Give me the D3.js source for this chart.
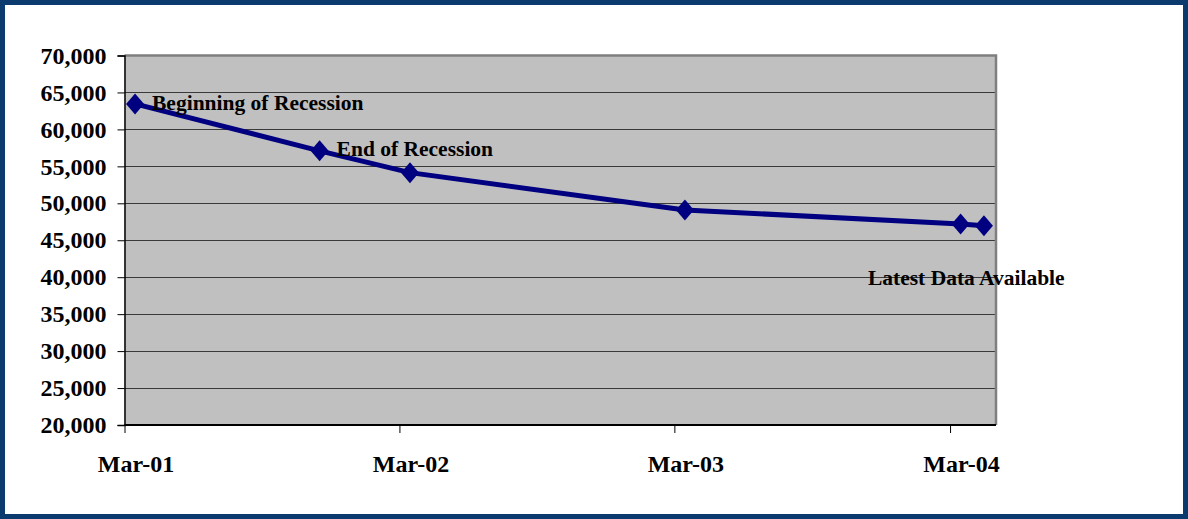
<!DOCTYPE html>
<html>
<head>
<meta charset="utf-8">
<script src="https://cdn.jsdelivr.net/npm/d3@7"></script>
<style>
  html, body { margin: 0; padding: 0; background: #fff; }
  svg { display: block; }
  text { font-family: "Liberation Serif", "DejaVu Serif", serif; fill: #000; }
</style>
</head>
<body>
<svg id="chart" width="1188" height="519"></svg>
<script>
// Observation dates (mid-month) and values
const dates = ["2001-03-15", "2001-11-15", "2002-03-15", "2003-03-15", "2004-03-15", "2004-04-15"];
const values = [63450, 57100, 54150, 49100, 47200, 46950];

// Annotations: which point each note belongs to, and its offset from that point
const notes = [
  { index: 0, text: "Beginning of Recession", dx: 17, dy: 6 },
  { index: 1, text: "End of Recession", dx: 17, dy: 5 },
  { index: 5, text: "Latest Data Available", dx: -116, dy: 59 }
];

const xTickDates = ["2001-03-01", "2002-03-01", "2003-03-01", "2004-03-01"];
const xDomain = ["2001-03-01", "2004-05-01"];
const yTicks = [20000, 25000, 30000, 35000, 40000, 45000, 50000, 55000, 60000, 65000, 70000];

const parse = d3.utcParse("%Y-%m-%d");
const fmtMonth = d3.utcFormat("%b-%y");
const fmtNum = d3.format(",");

const svg = d3.select("#chart");
const W = 1188, H = 519;

// outer frame
svg.append("rect")
  .attr("x", 2.5).attr("y", 2.5)
  .attr("width", W - 5).attr("height", H - 5)
  .attr("fill", "#fff")
  .attr("stroke", "#0b3a6e")
  .attr("stroke-width", 5);

const plot = { left: 124.5, right: 996, top: 55.5, bottom: 425 };

const x = d3.scaleUtc()
  .domain(xDomain.map(parse))
  .range([plot.left, plot.right]);

const y = d3.scaleLinear()
  .domain([20000, 70000])
  .range([plot.bottom, plot.top]);

// plot background
svg.append("rect")
  .attr("x", plot.left).attr("y", plot.top)
  .attr("width", plot.right - plot.left)
  .attr("height", plot.bottom - plot.top)
  .attr("fill", "#c0c0c0");

// horizontal gridlines
svg.append("g")
  .selectAll("line")
  .data(yTicks.filter(v => v > 20000 && v < 70000))
  .join("line")
  .attr("x1", plot.left).attr("x2", plot.right)
  .attr("y1", d => Math.round(y(d)) + 0.5)
  .attr("y2", d => Math.round(y(d)) + 0.5)
  .attr("stroke", "#3a3a3a")
  .attr("stroke-width", 1);

// top and right plot border
svg.append("path")
  .attr("d", `M${plot.left},${plot.top} H${plot.right} V${plot.bottom}`)
  .attr("fill", "none")
  .attr("stroke", "#7f7f7f")
  .attr("stroke-width", 2.5);

// y axis
const yAxis = svg.append("g")
  .attr("transform", `translate(${plot.left},0)`)
  .call(d3.axisLeft(y).tickValues(yTicks).tickSize(7).tickPadding(11).tickFormat(fmtNum));
yAxis.select(".domain").attr("stroke", "#000").attr("stroke-width", 1.5);
yAxis.selectAll(".tick line").attr("stroke", "#000");
yAxis.selectAll(".tick text")
  .attr("font-family", "'Liberation Serif', serif")
  .attr("font-weight", "bold")
  .attr("font-size", 24)
  .attr("fill", "#000");

// x axis; month labels sit under the middle of the month
const xAxis = svg.append("g")
  .attr("transform", `translate(0,${plot.bottom})`)
  .call(d3.axisBottom(x).tickValues(xTickDates.map(parse)).tickSize(8).tickPadding(22).tickFormat(fmtMonth));
xAxis.select(".domain").attr("stroke", "#000").attr("stroke-width", 2).attr("d", `M${plot.left},0H${plot.right}`);
xAxis.selectAll(".tick line").attr("stroke", "#000");
xAxis.selectAll(".tick text")
  .attr("dx", 11)
  .attr("font-family", "'Liberation Serif', serif")
  .attr("font-weight", "bold")
  .attr("font-size", 24)
  .attr("fill", "#000");

// data series
const pts = dates.map((d, i) => ({ date: parse(d), value: values[i] }));

svg.append("path")
  .datum(pts)
  .attr("d", d3.line().x(d => x(d.date)).y(d => y(d.value)))
  .attr("fill", "none")
  .attr("stroke", "#000080")
  .attr("stroke-width", 5)
  .attr("stroke-linejoin", "round");

// diamond markers
svg.append("g")
  .selectAll("path")
  .data(pts)
  .join("path")
  .attr("transform", d => `translate(${x(d.date)},${y(d.value)})`)
  .attr("d", "M0,-10.5L9,0L0,10.5L-9,0Z")
  .attr("fill", "#000080");

// annotations
svg.append("g")
  .selectAll("text")
  .data(notes)
  .join("text")
  .attr("x", d => x(pts[d.index].date) + d.dx)
  .attr("y", d => y(pts[d.index].value) + d.dy)
  .attr("font-size", 21.5)
  .attr("font-weight", "bold")
  .attr("fill", "#111")
  .text(d => d.text);
</script>
</body>
</html>
